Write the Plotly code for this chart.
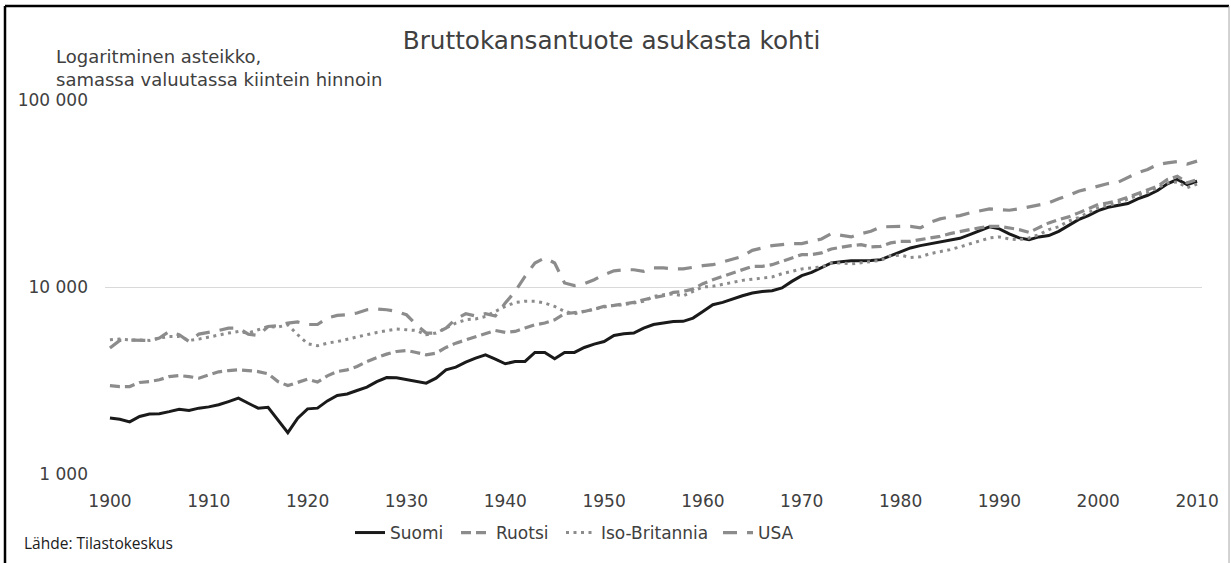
import plotly.graph_objects as go

years = list(range(1900, 2011))

suomi = [1990, 1960, 1900, 2030, 2095, 2100, 2155, 2220, 2185, 2250,
         2285, 2345, 2440, 2545, 2390, 2250, 2275, 1945, 1665, 1990,
         2230, 2250, 2460, 2630, 2680, 2795, 2915, 3120, 3280, 3270,
         3190, 3110, 3060, 3255, 3605, 3730, 3965, 4165, 4340, 4115,
         3885, 3995, 4000, 4465, 4465, 4130, 4465, 4470, 4750, 4950,
         5110, 5505, 5620, 5670, 6030, 6300, 6420, 6545, 6550, 6820,
         7400, 8040, 8270, 8625, 8980, 9290, 9470, 9560, 9880, 10715,
         11500, 11975, 12645, 13445, 13665, 13830, 13830, 13840, 14005, 14710,
         15510, 16180, 16640, 17060, 17420, 17770, 18210, 19055, 20025, 20960,
         20450, 19225, 18300, 17920, 18530, 18830, 19855, 21375, 22935, 24095,
         25625, 26695, 27260, 27940, 29605, 30945, 32805, 35620, 37560, 35310,
         36785]

ruotsi = [2970, 2935, 2935, 3085, 3120, 3190, 3320, 3360, 3320, 3255,
          3390, 3520, 3575, 3605, 3575, 3530, 3435, 3120, 2970, 3085,
          3215, 3100, 3350, 3530, 3605, 3755, 3995, 4190, 4375, 4520,
          4575, 4465, 4340, 4430, 4750, 5010, 5220, 5440, 5620, 5855,
          5715, 5785, 6030, 6280, 6415, 6680, 7195, 7265, 7400, 7625,
          7870, 7970, 8105, 8270, 8550, 8795, 8980, 9355, 9470, 9755,
          10415, 10940, 11400, 11885, 12490, 12895, 12895, 13165, 13715, 14295,
          14895, 14895, 15210, 15975, 16380, 16645, 16850, 16380, 16500, 17205,
          17550, 17550, 17920, 18300, 18665, 19295, 19855, 20275, 20700, 21115,
          21115, 20700, 20275, 19610, 20700, 22020, 22935, 23710, 24910, 26170,
          27600, 28185, 28995, 30195, 31600, 32915, 34580, 37560, 39120, 36060,
          37560]

iso_britannia = [5220, 5265, 5220, 5180, 5180, 5330, 5440, 5440, 5180, 5265,
                 5400, 5555, 5670, 5785, 5670, 5905, 6150, 6105, 6280, 5555,
                 4970, 4850, 5010, 5110, 5265, 5440, 5555, 5715, 5855, 5955,
                 5905, 5855, 5555, 5670, 6030, 6415, 6680, 6750, 6960, 7400,
                 7870, 8270, 8390, 8390, 8205, 7870, 7400, 7195, 7400, 7555,
                 7815, 7970, 8035, 8205, 8390, 8905, 9095, 9170, 8980, 9470,
                 10000, 10085, 10285, 10585, 10850, 11035, 11175, 11315, 11785, 12125,
                 12490, 12645, 12795, 13445, 13445, 13280, 13445, 13620, 13885, 14710,
                 14800, 14400, 14500, 15080, 15395, 15840, 16380, 16995, 17550, 18300,
                 18530, 18070, 17920, 18300, 19055, 20275, 21000, 22500, 23500, 25000,
                 26500, 27300, 28200, 29500, 31000, 32000, 33800, 36000, 36500, 34000,
                 35500]

usa = [4715, 5180, 5200, 5180, 5180, 5330, 5785, 5555, 5110, 5600,
       5715, 5850, 6030, 6030, 5600, 5500, 6150, 6200, 6415, 6500,
       6300, 6300, 6825, 7045, 7105, 7265, 7555, 7625, 7555, 7400,
       7105, 6280, 5670, 5670, 6030, 6750, 7195, 7000, 7200, 7000,
       8205, 9470, 11400, 13445, 14295, 13445, 10505, 10175, 10415, 10940,
       11635, 12205, 12370, 12370, 12125, 12645, 12645, 12490, 12490, 12795,
       13005, 13165, 13620, 14005, 14585, 15705, 16180, 16645, 16850, 17060,
       17060, 17550, 18070, 19295, 18830, 18530, 19295, 19855, 20960, 21115,
       21115, 21115, 20700, 22180, 23130, 23710, 24095, 24910, 25625, 26170,
       25960, 25730, 26170, 26840, 27600, 28185, 29605, 30830, 32515, 33495,
       34580, 35750, 36335, 38355, 40795, 42490, 45190, 46150, 46800, 45400,
       47100]

x_ticks = [1900, 1910, 1920, 1930, 1940, 1950, 1960, 1970, 1980, 1990, 2000, 2010]
y_ticks = [1000, 10000, 100000]
y_ticktext = ["1 000", "10 000", "100 000"]

FONT = "DejaVu Sans"
GRAY = "#8c8c8c"
TXT = "#404040"

W, H = 1231, 563
L, R, T, B = 105, 29, 100, 89
PW, PH = W - L - R, H - T - B


def px(xp):
    return (xp - L) / PW


def py(yp):
    return (H - B - yp) / PH


# legend sample start positions (pixels) for each entry
legend_starts = {"legend": 357, "legend2": 463, "legend3": 568, "legend4": 725}

fig = go.Figure()
fig.add_trace(go.Scatter(x=years, y=suomi, name="Suomi", mode="lines", legend="legend",
                         line=dict(color="#1a1a1a", width=3)))
fig.add_trace(go.Scatter(x=years, y=ruotsi, name="Ruotsi", mode="lines", legend="legend2",
                         line=dict(color=GRAY, width=3.2, dash="10px,5px")))
fig.add_trace(go.Scatter(x=years, y=iso_britannia, name="Iso-Britannia", mode="lines",
                         legend="legend3",
                         line=dict(color=GRAY, width=3, dash="3px,4.5px")))
fig.add_trace(go.Scatter(x=years, y=usa, name="USA", mode="lines", legend="legend4",
                         line=dict(color=GRAY, width=3.2, dash="14px,10px")))

legend_common = dict(orientation="h", xanchor="left", yanchor="middle", y=py(533),
                     font=dict(size=17, color=TXT, family=FONT),
                     bgcolor="rgba(0,0,0,0)")
legends = {k: dict(legend_common, x=px(v - 7)) for k, v in legend_starts.items()}

fig.update_layout(
    width=W, height=H,
    margin=dict(l=L, r=R, t=T, b=B),
    paper_bgcolor="white", plot_bgcolor="white",
    font=dict(family=FONT, color=TXT),
    title=dict(text="Bruttokansantuote asukasta kohti",
               x=611.5 / W, xanchor="center",
               y=1 - 40 / H, yanchor="middle",
               font=dict(size=24.7, color=TXT, family=FONT)),
    showlegend=True,
    xaxis=dict(range=[1899.5, 2010.5], tickvals=x_ticks, showgrid=False,
               zeroline=False, showline=False, ticks="",
               tickfont=dict(size=17, color=TXT, family=FONT),
               ticklabelstandoff=15),
    yaxis=dict(type="log", range=[3, 5], tickvals=y_ticks, ticktext=y_ticktext,
               showgrid=True, gridcolor="#d9d9d9", gridwidth=1,
               zeroline=False, showline=False, ticks="",
               tickfont=dict(size=17, color=TXT, family=FONT),
               ticklabelstandoff=16),
    **legends,
)

fig.add_annotation(text="Logaritminen asteikko,<br>samassa valuutassa kiintein hinnoin",
                   xref="paper", yref="paper", x=px(54), y=py(68),
                   xanchor="left", yanchor="middle", align="left", showarrow=False,
                   font=dict(size=18, color=TXT, family=FONT))
fig.add_annotation(text="Lähde: Tilastokeskus",
                   xref="paper", yref="paper", x=px(22), y=py(543),
                   xanchor="left", yanchor="middle", align="left", showarrow=False,
                   font=dict(size=15.5, color="#202020", family="Open Sans"))

# frame around the chart image
fig.add_shape(type="line", xref="paper", yref="paper",
              x0=px(5), x1=px(1229), y0=py(6), y1=py(6),
              line=dict(color="black", width=2.5))
fig.add_shape(type="line", xref="paper", yref="paper",
              x0=px(5), x1=px(5), y0=py(6), y1=py(570),
              line=dict(color="black", width=2.5))
fig.add_shape(type="line", xref="paper", yref="paper",
              x0=px(1229), x1=px(1229), y0=py(6), y1=py(570),
              line=dict(color="#a6a6a6", width=1))

fig.write_html("out.html", config={"displayModeBar": False},
               post_script="document.body.style.margin='0px';")
